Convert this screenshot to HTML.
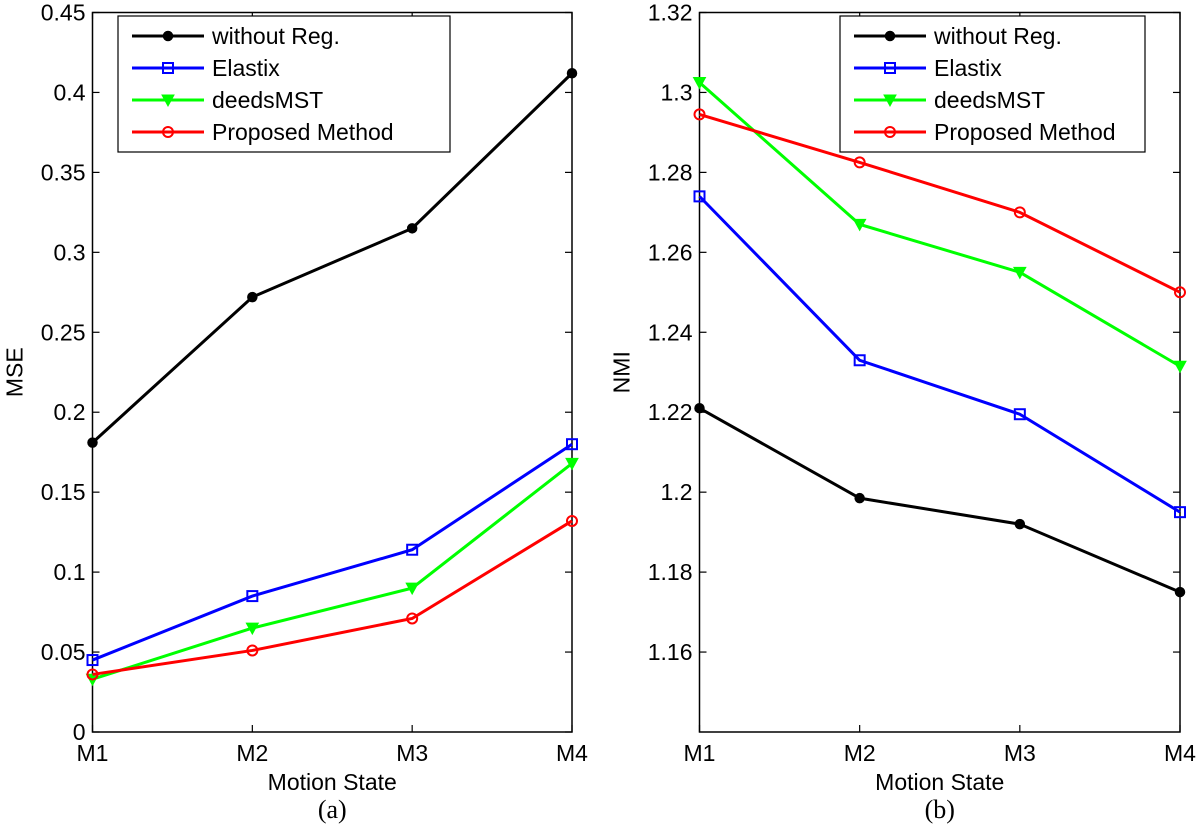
<!DOCTYPE html>
<html><head><meta charset="utf-8"><style>
body{margin:0;background:#fff;}
svg text{font-family:"Liberation Sans",Arial,sans-serif;font-size:23px;fill:#000;}
</style></head><body>
<svg id="chart" width="1200" height="830" xmlns="http://www.w3.org/2000/svg"></svg>
<script>
const categories=["M1","M2","M3","M4"];
const seriesNames=["without Reg.","Elastix","deedsMST","Proposed Method"];
const seriesColors=["#000","#0000ff","#00ff00","#ff0000"];
const mseWithout=[0.181,0.272,0.315,0.412];
const mseElastix=[0.045,0.085,0.114,0.180];
const mseDeeds=[0.033,0.065,0.090,0.168];
const mseProposed=[0.036,0.051,0.071,0.132];
const nmiWithout=[1.221,1.1985,1.192,1.175];
const nmiElastix=[1.274,1.233,1.2195,1.195];
const nmiDeeds=[1.3025,1.267,1.255,1.2315];
const nmiProposed=[1.2945,1.2825,1.270,1.250];
const mseTicks=["0","0.05","0.1","0.15","0.2","0.25","0.3","0.35","0.4","0.45"];
const nmiTicks=["1.16","1.18","1.2","1.22","1.24","1.26","1.28","1.3","1.32"];
const NS="http://www.w3.org/2000/svg";
const svg=document.getElementById('chart');
function mk(tag,attrs,parent){const e=document.createElementNS(NS,tag);for(const k in attrs)e.setAttribute(k,attrs[k]);(parent||svg).appendChild(e);return e;}
function marker(g,type,x,y,c){
  let m;
  if(type===0){m=mk('circle',{cx:x,cy:y,r:4.5,fill:c,stroke:c,'stroke-width':1.5},g);}
  else if(type===1){m=mk('rect',{x:x-5,y:y-5,width:10,height:10,fill:'none',stroke:c,'stroke-width':2},g);}
  else if(type===2){m=mk('path',{d:`M${x-6},${y-5}L${x+6},${y-5}L${x},${y+6}Z`,fill:c,stroke:c,'stroke-width':1},g);}
  else {m=mk('circle',{cx:x,cy:y,r:5,fill:'none',stroke:c,'stroke-width':2},g);}
  
  
}
function panel(id,L,R,T,B,ymin,ymax,ticks,series,ylabel,lx,lw,tag){
  const g=mk('g',{});
  
  
  const xs=i=>L+(R-L)*i/(categories.length-1);
  const ys=v=>B-(v-ymin)/(ymax-ymin)*(B-T);
  mk('rect',{x:L,y:T,width:R-L,height:B-T,fill:'#fff',stroke:'#000','stroke-width':1.5},g);
  ticks.forEach(t=>{const y=ys(parseFloat(t));
    mk('line',{x1:L,y1:y,x2:L+7,y2:y,stroke:'#000','stroke-width':1.2},g);
    mk('line',{x1:R,y1:y,x2:R-7,y2:y,stroke:'#000','stroke-width':1.2},g);
    const tx=mk('text',{x:L-7,y:y+8,'text-anchor':'end'},g);tx.textContent=t;
    
    });
  categories.forEach((c,i)=>{const x=xs(i);
    mk('line',{x1:x,y1:B,x2:x,y2:B-7,stroke:'#000','stroke-width':1.2},g);
    mk('line',{x1:x,y1:T,x2:x,y2:T+7,stroke:'#000','stroke-width':1.2},g);
    const tx=mk('text',{x:x,y:B+29,'text-anchor':'middle'},g);tx.textContent=c;
    
    });
  series.forEach((s,k)=>{
    const p=mk('polyline',{points:s.map((v,i)=>xs(i)+','+ys(v)).join(' '),fill:'none',stroke:seriesColors[k],'stroke-width':3},g);
    
    
    s.forEach((v,i)=>marker(g,k,xs(i),ys(v),seriesColors[k]));
  });
  const yl=mk('text',{x:0,y:0,'text-anchor':'middle',transform:`translate(${L-70},${(T+B)/2}) rotate(-90)`},g);yl.textContent=ylabel;
  
  const xl=mk('text',{x:(L+R)/2,y:B+58,'text-anchor':'middle'},g);xl.textContent='Motion State';
  
  const cap=mk('text',{x:(L+R)/2,y:B+86,'text-anchor':'middle',style:'font-family:"Liberation Serif",serif;font-size:26px'},g);cap.textContent=tag;
  
  const lg=mk('g',{},g);
  
  
  mk('rect',{x:lx,y:16,width:lw,height:136,fill:'#fff',stroke:'#000','stroke-width':1.2},lg);
  seriesNames.forEach((n,k)=>{const y=36+k*32;
    mk('line',{x1:lx+14,y1:y,x2:lx+86,y2:y,stroke:seriesColors[k],'stroke-width':3},lg);
    marker(lg,k,lx+50,y,seriesColors[k]);
    const t=mk('text',{x:lx+94,y:y+8},lg);t.textContent=n;
    });
}
panel('mse-panel',92.5,572,12.5,732,0,0.45,mseTicks,[mseWithout,mseElastix,mseDeeds,mseProposed],'MSE',118,332,'(a)');
panel('nmi-panel',699.5,1180,12.5,732,1.14,1.32,nmiTicks,[nmiWithout,nmiElastix,nmiDeeds,nmiProposed],'NMI',840,305,'(b)');
</script>
</body></html>
